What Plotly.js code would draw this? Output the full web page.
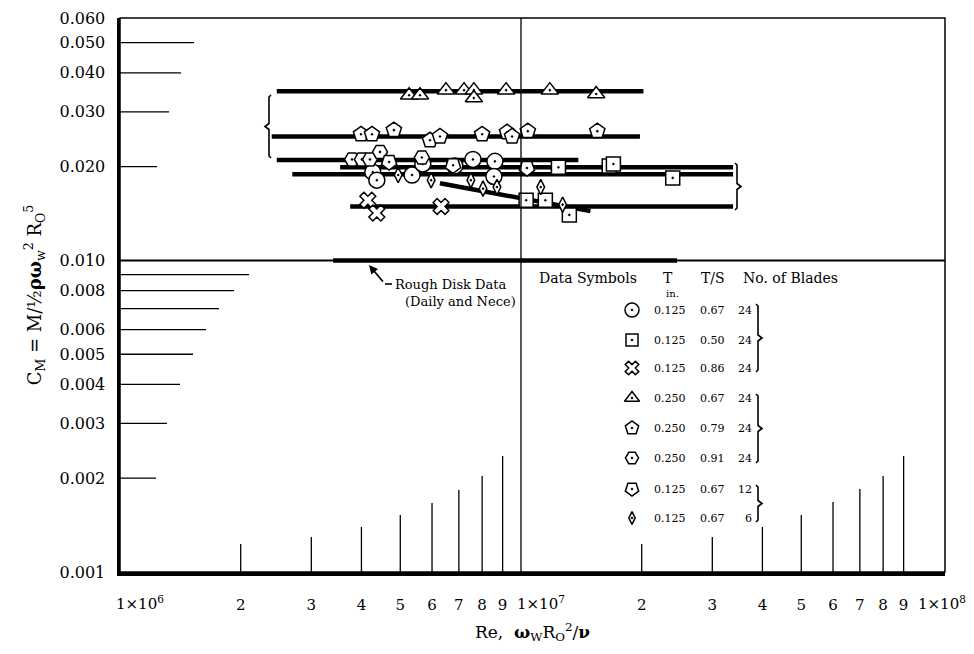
<!DOCTYPE html>
<html><head><meta charset="utf-8">
<script src="https://cdn.plot.ly/plotly-3.0.1.min.js"></script>
<style>html,body{margin:0;padding:0;background:#fff}</style>
</head><body><div id="chart" style="width:974px;height:654px"></div>
<script>
// ---------------- DATA ----------------
// Re (x) and C_M (y) for each symbol series
const circRe = [4.27e6, 4.37e6, 5.35e6, 5.69e6, 6.84e6, 7.59e6, 8.61e6, 8.56e6];
const circCm = [0.0192, 0.0181, 0.0188, 0.0204, 0.0201, 0.0211, 0.0208, 0.0186];

const sqRe = [1.03e7, 1.15e7, 1.32e7, 1.24e7, 1.66e7, 1.70e7, 2.39e7];
const sqCm = [0.0156, 0.0156, 0.0140, 0.0199, 0.0201, 0.0204, 0.0184];

const xRe = [4.15e6, 4.37e6, 6.32e6];
const xCm = [0.0156, 0.0142, 0.0149];

const triRe = [5.26e6, 5.60e6, 6.50e6, 7.21e6, 7.63e6, 7.63e6, 9.18e6, 1.18e7, 1.54e7];
const triCm = [0.0339, 0.0339, 0.0352, 0.0352, 0.0352, 0.0332, 0.0352, 0.0352, 0.0342];

const houseRe = [3.99e6, 4.25e6, 4.82e6, 5.93e6, 6.28e6, 8.0e6, 9.23e6, 9.50e6, 1.04e7, 1.55e7];
const houseCm = [0.0254, 0.0254, 0.0262, 0.0243, 0.0250, 0.0254, 0.0258, 0.0250, 0.0260, 0.0260];

const dropRe = [3.79e6, 4.01e6, 4.20e6, 4.45e6, 5.66e6];
const dropCm = [0.0211, 0.0211, 0.0211, 0.0223, 0.0214];

const shieldRe = [4.69e6, 6.77e6, 1.035e7];
const shieldCm = [0.0207, 0.0202, 0.0198];

const diaRe = [4.94e6, 5.97e6, 7.50e6, 8.04e6, 8.71e6, 1.12e7, 1.27e7];
const diaCm = [0.0188, 0.0181, 0.0181, 0.0170, 0.0172, 0.0172, 0.0151];

// faired lines (start, end)
const lineTriRe = [2.46e6, 2.02e7],  lineTriCm = [0.0349, 0.0349];
const lineHouseRe = [2.39e6, 1.98e7], lineHouseCm = [0.0250, 0.0250];
const lineCRe = [2.46e6, 1.39e7], lineCCm = [0.0210, 0.0210];
const lineDRe = [3.54e6, 3.38e7], lineDCm = [0.0199, 0.0199];
const lineERe = [2.69e6, 3.38e7], lineECm = [0.0189, 0.0189];
const lineXRe = [3.75e6, 3.38e7], lineXCm = [0.0149, 0.0149];
const lineSlopeRe = [6.28e6, 1.49e7], lineSlopeCm = [0.0177, 0.0144];
const roughRe = [3.40e6, 2.45e7], roughCm = [0.0100, 0.0100];

// tick labels
const yTickVals = [0.001,0.002,0.003,0.004,0.005,0.006,0.008,0.010,0.020,0.030,0.040,0.050,0.060];
const yTickText = ['0.001','0.002','0.003','0.004','0.005','0.006','0.008','0.010','0.020','0.030','0.040','0.050','0.060'];
const xDigitVals = [2e6,3e6,4e6,5e6,6e6,7e6,8e6,9e6,2e7,3e7,4e7,5e7,6e7,7e7,8e7,9e7];
const xDigitText = ['2','3','4','5','6','7','8','9','2','3','4','5','6','7','8','9'];
const xPowVals = [1e6, 1e7, 1e8];
const xPowText = ['1×10<sup>6</sup>','1×10<sup>7</sup>','1×10<sup>8</sup>'];
const yMinorVals = [0.002,0.003,0.004,0.005,0.006,0.007,0.008,0.009,0.02,0.03,0.04,0.05];
const xMinorVals = [2e6,3e6,4e6,5e6,6e6,7e6,8e6,9e6,2e7,3e7,4e7,5e7,6e7,7e7,8e7,9e7];

// legend table
const symT = ['0.125','0.125','0.125','0.250','0.250','0.250','0.125','0.125'];
const symTS = ['0.67','0.50','0.86','0.67','0.79','0.91','0.67','0.67'];
const symBlades = ['24','24','24','24','24','24','12','6'];

// ---------------- STYLE / LAYOUT ----------------
const W = 974, H = 654, ML = 120, MR = 29, MT = 18, MB = 82;
const PW = W - ML - MR, PH = H - MT - MB;
const xr = [6, 8.0574], yr = [-3, Math.log10(0.06)];
const FONT = 'DejaVu Serif, Liberation Serif, serif';
const yMinorLen = [36,47,60,73,86,99,114,129,37,49,61,74];
const xMinorLen = [28,35,45,57,69,82,96,116,28,35,45,57,70,83,96,116];
const P = (px) => px - ML;       // page px -> overlay x2
const Q = (py) => H - MB - py;   // page py -> overlay y2

const mk = (sym, size, extra) => Object.assign({symbol: sym, size: size, color: '#fff', line: {color: '#000', width: 1.5}}, extra || {});
const series = [
  {re: circRe, cm: circCm, m: mk('circle-dot', 16)},
  {re: sqRe, cm: sqCm, m: mk('square-dot', 14)},
  {re: xRe, cm: xCm, m: mk('x', 14)},
  {re: triRe, cm: triCm, m: mk('triangle-up-dot', 15)},
  {re: houseRe, cm: houseCm, m: mk('pentagon-dot', 16)},
  {re: dropRe, cm: dropCm, m: mk('hexagon2-dot', 15)},
  {re: shieldRe, cm: shieldCm, m: mk('pentagon-dot', 16, {angle: 180})},
  {re: diaRe, cm: diaCm, m: mk('diamond-tall-dot', 11)}
];

const traces = [];
[[lineTriRe,lineTriCm],[lineHouseRe,lineHouseCm],[lineCRe,lineCCm],[lineDRe,lineDCm],
 [lineERe,lineECm],[lineXRe,lineXCm],[lineSlopeRe,lineSlopeCm],[roughRe,roughCm]].forEach(l => {
  traces.push({x: l[0], y: l[1], mode: 'lines', line: {color: '#000', width: 4.5}, showlegend: false, hoverinfo: 'skip'});
});
series.forEach(s => {
  traces.push({x: s.re, y: s.cm, mode: 'markers', marker: s.m, showlegend: false});
});

// legend table markers in overlay pixel axes
const rowPy = [310, 340, 368, 398, 428, 458, 489, 518];
series.forEach((s, i) => {
  traces.push({x: [P(632)], y: [Q(rowPy[i])], xaxis: 'x2', yaxis: 'y2', mode: 'markers',
    marker: Object.assign({}, s.m, {size: s.m.size - 2}), showlegend: false, hoverinfo: 'skip'});
});

const shapes = [];
// frame
shapes.push({type: 'rect', xref: 'paper', yref: 'paper', x0: 0, x1: 1, y0: 0, y1: 1, line: {color: '#000', width: 1.5}});
// long y ticks
yMinorVals.forEach((v, i) => shapes.push({type: 'line', xref: 'paper', yref: 'y', x0: 0, x1: yMinorLen[i] / PW, y0: v, y1: v, line: {color: '#000', width: 1.3}}));
// long x ticks
xMinorVals.forEach((v, i) => shapes.push({type: 'line', xref: 'x', yref: 'paper', x0: v, x1: v, y0: 0, y1: xMinorLen[i] / PH, line: {color: '#000', width: 1.3}}));
// full lines at 0.010 and 1e7
shapes.push({type: 'line', xref: 'paper', yref: 'y', x0: 0, x1: 1, y0: 0.01, y1: 0.01, line: {color: '#000', width: 2}});
shapes.push({type: 'line', xref: 'x', yref: 'paper', x0: 1e7, x1: 1e7, y0: 0, y1: 1, line: {color: '#000', width: 1.3}});

// braces (overlay pixel coords)
function brace(X, pyTop, pyBot, dir) {
  const yt = Q(pyTop), yb = Q(pyBot), ym = (yt + yb) / 2, x = P(X);
  const d = dir * 4;
  return {type: 'path', xref: 'x2', yref: 'y2', line: {color: '#000', width: 1.6},
    path: `M ${x - d/2},${yt} L ${x},${yt - 2} L ${x},${ym + 3} L ${x + d},${ym} L ${x},${ym - 3} L ${x},${yb + 2} L ${x - d/2},${yb}`};
}
shapes.push(brace(269, 95, 158, -1));
shapes.push(brace(737, 163, 210, 1));
shapes.push(brace(758, 304, 372, 1));
shapes.push(brace(758, 394, 463, 1));
shapes.push(brace(758, 485, 522, 1));
// arrow tail segment
shapes.push({type: 'line', xref: 'x2', yref: 'y2', x0: P(385), x1: P(392), y0: Q(284), y1: Q(284), line: {color: '#000', width: 1.6}});

const annotations = [];
const lx = (v) => Math.log10(v);
xPowVals.forEach((v, i) => annotations.push({xref: 'x', yref: 'paper', x: lx(v), y: (572 - 603) / PH, xanchor: 'left', yanchor: 'middle', xshift: -6,
  text: xPowText[i], showarrow: false, font: {family: FONT, size: 15, color: '#000'}}));

const tf = (size) => ({family: FONT, size: size, color: '#000'});
// rough disk annotation
annotations.push({xref: 'x2', yref: 'y2', x: P(369), y: Q(265), ax: 16, ay: 19, text: ' ', showarrow: true,
  arrowhead: 2, arrowsize: 1.1, arrowwidth: 1.6, arrowcolor: '#000', standoff: 0, font: tf(2)});
annotations.push({xref: 'x2', yref: 'y2', x: P(393), y: Q(284), xanchor: 'left', yanchor: 'middle', text: 'Rough Disk Data', showarrow: false, font: tf(13)});
annotations.push({xref: 'x2', yref: 'y2', x: P(403), y: Q(301), xanchor: 'left', yanchor: 'middle', text: '(Daily and Nece)', showarrow: false, font: tf(13)});

// legend header
annotations.push({xref: 'x2', yref: 'y2', x: P(588), y: Q(278), text: 'Data Symbols', showarrow: false, font: tf(14)});
annotations.push({xref: 'x2', yref: 'y2', x: P(668), y: Q(278), text: 'T', showarrow: false, font: tf(14)});
annotations.push({xref: 'x2', yref: 'y2', x: P(713), y: Q(278), text: 'T/S', showarrow: false, font: tf(14)});
annotations.push({xref: 'x2', yref: 'y2', x: P(790), y: Q(278), text: 'No. of Blades', showarrow: false, font: tf(14)});
annotations.push({xref: 'x2', yref: 'y2', x: P(672), y: Q(293), text: 'in.', showarrow: false, font: tf(10)});
rowPy.forEach((py, i) => {
  annotations.push({xref: 'x2', yref: 'y2', x: P(670), y: Q(py), text: symT[i], showarrow: false, font: tf(11)});
  annotations.push({xref: 'x2', yref: 'y2', x: P(712), y: Q(py), text: symTS[i], showarrow: false, font: tf(11)});
  annotations.push({xref: 'x2', yref: 'y2', x: P(754), y: Q(py), xanchor: 'right', text: symBlades[i], showarrow: false, font: tf(11)});
});

const layout = {
  width: W, height: H,
  margin: {l: ML, r: MR, t: MT, b: MB, pad: 0},
  paper_bgcolor: '#fff', plot_bgcolor: '#fff',
  font: {family: FONT, color: '#000'},
  showlegend: false,
  xaxis: {type: 'log', range: xr, showgrid: false, zeroline: false, showline: true, linewidth: 3.5, linecolor: '#000',
    ticks: '', tickvals: xDigitVals, ticktext: xDigitText, tickfont: tf(15), ticklabelstandoff: 16,
    title: {text: 'Re,  <b>ω</b><sub>W</sub>R<sub>O</sub><sup>2</sup>/<b>ν</b>', font: tf(17), standoff: 14}},
  yaxis: {type: 'log', range: yr, showgrid: false, zeroline: false, showline: true, linewidth: 3.5, linecolor: '#000',
    ticks: '', tickvals: yTickVals, ticktext: yTickText, tickfont: tf(16), ticklabelstandoff: 8,
    title: {text: 'C<sub>M</sub> = M/½<b>ρω</b><sub>w</sub><sup>2</sup> R<sub>O</sub><sup>5</sup>', font: tf(18), standoff: 14}},
  xaxis2: {overlaying: 'x', range: [0, PW], visible: false, fixedrange: true},
  yaxis2: {overlaying: 'y', range: [0, PH], visible: false, fixedrange: true},
  shapes: shapes,
  annotations: annotations
};

Plotly.newPlot('chart', traces, layout, {displayModeBar: false, staticPlot: true});
</script></body></html>
